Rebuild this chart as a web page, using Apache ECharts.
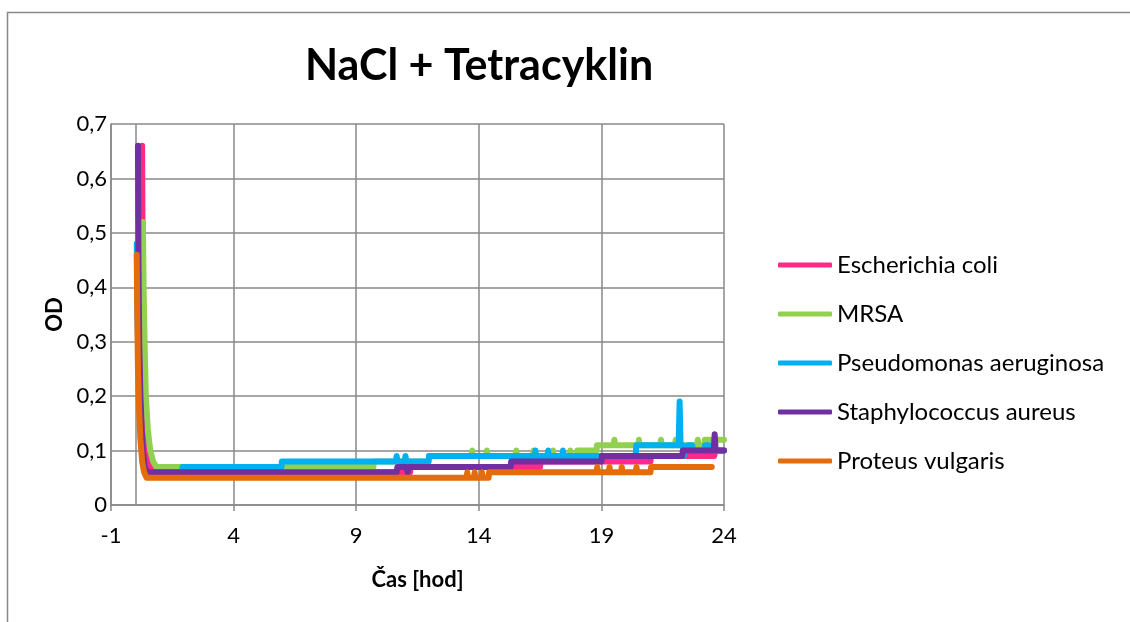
<!DOCTYPE html>
<html>
<head>
<meta charset="utf-8">
<script src="https://cdn.jsdelivr.net/npm/echarts@6/dist/echarts.min.js"></script>
<style>
  html, body { margin: 0; padding: 0; background: #fff; }
  #chart { width: 1130px; height: 622px; }
</style>
</head>
<body>
<div id="chart"></div>
<script>
// Optical density (OD) over time [hours], one list of [hours, OD] per strain.
const seriesNames = ['Escherichia coli', 'MRSA', 'Pseudomonas aeruginosa', 'Staphylococcus aureus', 'Proteus vulgaris'];
const seriesColors = ['#FF2A85', '#92D050', '#00B0F0', '#7030A0', '#E46C0A'];

const ecoliData = [
  [0.27, 0.66], [0.29, 0.45], [0.32, 0.3], [0.36, 0.2], [0.42, 0.13], [0.5, 0.09], [0.6, 0.07], [0.72, 0.06],
  [11.2, 0.06], [11.22, 0.07], [16.5, 0.07], [16.52, 0.08], [21.0, 0.08], [21.02, 0.09],
  [23.6, 0.09], [23.65, 0.1], [24.0, 0.1]
];
const mrsaData = [
  [0.3, 0.52], [0.33, 0.4], [0.37, 0.3], [0.42, 0.2], [0.5, 0.14], [0.6, 0.1], [0.72, 0.08], [0.85, 0.07],
  [9.7, 0.07], [9.72, 0.08], [11.95, 0.08], [11.97, 0.09],
  [13.7, 0.09], [13.73, 0.1], [13.76, 0.09], [14.3, 0.09], [14.33, 0.1], [14.36, 0.09],
  [15.5, 0.09], [15.53, 0.1], [15.56, 0.09], [16.2, 0.09], [16.23, 0.1], [16.26, 0.09],
  [17.0, 0.09], [17.03, 0.1], [17.06, 0.09], [17.7, 0.09], [17.73, 0.1], [17.76, 0.09],
  [18.0, 0.09], [18.02, 0.1], [18.8, 0.1], [18.82, 0.11],
  [19.5, 0.11], [19.53, 0.12], [19.56, 0.11], [20.5, 0.11], [20.53, 0.12], [20.56, 0.11],
  [21.4, 0.11], [21.43, 0.12], [21.46, 0.11], [22.0, 0.11], [22.03, 0.12], [22.06, 0.11],
  [22.9, 0.11], [22.93, 0.12], [22.96, 0.11], [23.2, 0.11], [23.22, 0.12], [23.5, 0.12],
  [23.52, 0.11], [23.6, 0.11], [23.62, 0.12], [24.0, 0.12]
];
const pseudomonasData = [
  [0.05, 0.48], [0.08, 0.35], [0.12, 0.25], [0.17, 0.17], [0.22, 0.12], [0.3, 0.08], [0.4, 0.06],
  [1.9, 0.06], [1.92, 0.07], [5.95, 0.07], [5.97, 0.08],
  [10.62, 0.08], [10.65, 0.09], [10.68, 0.08], [10.98, 0.08], [11.01, 0.09], [11.04, 0.08],
  [11.95, 0.08], [11.97, 0.09],
  [16.28, 0.09], [16.31, 0.1], [16.34, 0.09], [16.8, 0.09], [16.83, 0.1], [16.86, 0.09],
  [17.4, 0.09], [17.43, 0.1], [17.46, 0.09],
  [20.4, 0.09], [20.42, 0.11], [22.15, 0.11], [22.19, 0.19], [22.23, 0.11],
  [22.33, 0.11], [22.36, 0.09], [22.39, 0.1], [22.5, 0.1], [22.53, 0.11], [22.7, 0.11], [22.73, 0.1],
  [23.2, 0.1], [23.23, 0.11], [23.4, 0.11], [23.43, 0.1], [24.0, 0.1]
];
const staphData = [
  [0.1, 0.66], [0.12, 0.45], [0.15, 0.3], [0.2, 0.2], [0.25, 0.14], [0.3, 0.1], [0.38, 0.07], [0.48, 0.06],
  [10.65, 0.06], [10.68, 0.07], [11.05, 0.07], [11.1, 0.06], [11.15, 0.07],
  [15.3, 0.07], [15.32, 0.08], [19.0, 0.08], [19.02, 0.09], [22.3, 0.09], [22.32, 0.1],
  [23.58, 0.1], [23.62, 0.13], [23.66, 0.1], [24.0, 0.1]
];
const proteusData = [
  [0.05, 0.46], [0.07, 0.35], [0.1, 0.25], [0.15, 0.17], [0.2, 0.12], [0.27, 0.08], [0.35, 0.06], [0.45, 0.05],
  [13.5, 0.05], [13.53, 0.06], [13.56, 0.05], [13.8, 0.05], [13.83, 0.06], [13.86, 0.05],
  [14.1, 0.05], [14.13, 0.06], [14.16, 0.05], [14.4, 0.05], [14.42, 0.06],
  [18.8, 0.06], [18.83, 0.07], [18.86, 0.06], [19.3, 0.06], [19.33, 0.07], [19.36, 0.06],
  [19.8, 0.06], [19.83, 0.07], [19.86, 0.06], [20.4, 0.06], [20.43, 0.07], [20.46, 0.06],
  [21.0, 0.06], [21.03, 0.07], [23.5, 0.07]
];
const allData = [ecoliData, mrsaData, pseudomonasData, staphData, proteusData];

// Hour axis runs -1..24 with a label every 5 h; values are offset so ticks start at a multiple of 5.
const HOUR_MIN = -1;
const HOUR_MAX = 24;
const HOUR_STEP = 5;
const OD_MAX = 0.7;
const OD_STEP = 0.1;

const FONT = 'Lato, "Open Sans", sans-serif';
const GRID_GRAY = '#888888';

const shift = h => h - HOUR_MIN;

const chart = echarts.init(document.getElementById('chart'), null, { renderer: 'canvas' });

const series = seriesNames.map((name, i) => ({
  name,
  type: 'line',
  data: allData[i].map(([h, od]) => [shift(h), od]),
  showSymbol: false,
  symbol: 'none',
  smooth: false,
  sampling: null,
  color: seriesColors[i],
  lineStyle: { width: 6, color: seriesColors[i], cap: 'round', join: 'round' },
  z: 2 + i
}));

// Vertical reference line at 0 h
series[0].markLine = {
  silent: true,
  symbol: 'none',
  animation: false,
  label: { show: false },
  lineStyle: { color: GRID_GRAY, width: 1.5, type: 'solid' },
  data: [{ xAxis: shift(0) }]
};

chart.setOption({
  animation: false,
  backgroundColor: '#ffffff',
  textStyle: { fontFamily: FONT },
  title: {
    text: 'NaCl + Tetracyklin',
    left: 300,
    top: 40,
    textStyle: { fontFamily: FONT, fontSize: 43, fontWeight: 'bold', color: '#000' }
  },
  graphic: [{
    type: 'rect',
    shape: { x: 7.5, y: 12.5, width: 1200, height: 700 },
    style: { fill: 'none', stroke: GRID_GRAY, lineWidth: 1.5 },
    silent: true,
    z: -1
  }],
  legend: {
    orient: 'vertical',
    left: 778,
    top: 253,
    itemWidth: 54,
    itemHeight: 5,
    itemGap: 25,
    icon: 'roundRect',
    padding: 0,
    data: seriesNames,
    textStyle: { fontFamily: FONT, fontSize: 24, color: '#000' }
  },
  grid: { left: 111, right: 406, top: 124, bottom: 117, containLabel: false },
  xAxis: {
    type: 'value',
    min: shift(HOUR_MIN),
    max: shift(HOUR_MAX),
    interval: HOUR_STEP,
    name: 'Čas [hod]',
    nameLocation: 'middle',
    nameGap: 64,
    nameTextStyle: { fontFamily: FONT, fontSize: 22, fontWeight: 'bold', color: '#000' },
    axisLine: { show: true, onZero: false, lineStyle: { color: GRID_GRAY, width: 1.5 } },
    axisTick: { show: true, length: 6, lineStyle: { color: GRID_GRAY, width: 1.5 } },
    axisLabel: {
      margin: 20,
      fontFamily: FONT, fontSize: 22, color: '#000',
      formatter: v => String(v + HOUR_MIN)
    },
    splitLine: { show: true, lineStyle: { color: GRID_GRAY, width: 1.5 } }
  },
  yAxis: {
    type: 'value',
    min: 0,
    max: OD_MAX,
    interval: OD_STEP,
    name: 'OD',
    nameLocation: 'middle',
    nameRotate: 90,
    nameGap: 36,
    nameTextStyle: { fontFamily: FONT, fontSize: 22, fontWeight: 'bold', color: '#000' },
    axisLine: { show: true, onZero: false, lineStyle: { color: GRID_GRAY, width: 1.5 } },
    axisTick: { show: false },
    axisLabel: {
      margin: 4,
      fontFamily: FONT, fontSize: 22, color: '#000',
      formatter: v => (v === 0 ? '0' : v.toFixed(1).replace('.', ','))
    },
    splitLine: { show: true, lineStyle: { color: GRID_GRAY, width: 1.5 } }
  },
  series
});
</script>
</body>
</html>
